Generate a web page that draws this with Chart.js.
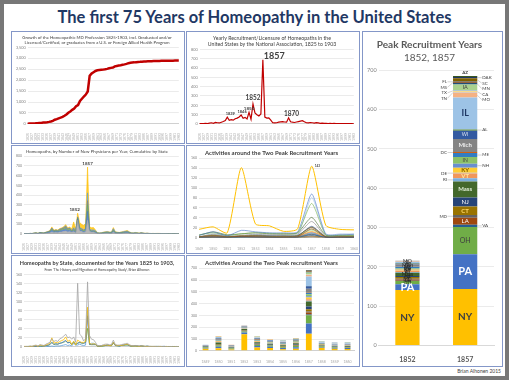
<!DOCTYPE html>
<html lang="en">
<head>
<meta charset="UTF-8">
<title>The first 75 Years of Homeopathy in the United States</title>
<script src="https://cdn.jsdelivr.net/npm/chart.js"></script>
<style>
    html, body { margin: 0; padding: 0; }
    body {
        width: 509px; height: 380px; overflow: hidden;
        background: #777777; position: relative;
        font-family: Lato, "Open Sans", sans-serif;
    }
    #sheet { position: absolute; left: 4px; top: 4px; width: 501px; height: 372px; background: #fff; }
    h1 {
        position: absolute; left: 0; top: 7px; width: 509px; margin: 0;
        text-align: center; font: bold 16.5px Lato, sans-serif; color: #1f3864;
    }
    .panel { position: absolute; border: 1px solid #8497c8; box-sizing: border-box; background: #fff; }
    .panel canvas { display: block; }
    #credit { position: absolute; right: 8px; top: 368px; font: 5px Lato, sans-serif; color: #404040; }
</style>
</head>
<body>
<div id="sheet"></div>
<h1>The first 75 Years of Homeopathy in the United States</h1>

<div class="panel" style="left:11px;top:31px;width:174px;height:113px"><canvas id="cumChart" width="172" height="111"></canvas></div>
<div class="panel" style="left:186px;top:31px;width:174px;height:113px"><canvas id="yearChart" width="172" height="111"></canvas></div>
<div class="panel" style="left:11px;top:145px;width:174px;height:109px"><canvas id="areaChart" width="172" height="107"></canvas></div>
<div class="panel" style="left:186px;top:145px;width:174px;height:109px"><canvas id="windowLines" width="172" height="107"></canvas></div>
<div class="panel" style="left:11px;top:255px;width:174px;height:112px"><canvas id="stateLines" width="172" height="110"></canvas></div>
<div class="panel" style="left:186px;top:255px;width:174px;height:112px"><canvas id="windowBars" width="172" height="110"></canvas></div>
<div class="panel" style="left:362px;top:31px;width:141px;height:336px"><canvas id="peakChart" width="139" height="334"></canvas></div>
<div id="credit">Brian Alhonen 2015</div>

<script>
// ---- data ----
const years = [];
for (let y = 1825; y <= 1903; y++) years.push(String(y));

// cumulative number of homeopathic MDs, 1825..1903
const cumulative = [10,15,18,22,26,32,40,46,58,68,78,92,112,140,
    190,220,255,285,320,370,430,510,570,640,
    700,810,860,1050,1150,1250,1340,1480,2200,2300,2360,2420,
    2450,2460,2470,2480,2495,2515,2540,2560,2575,2630,2650,2665,2680,2700,2720,2745,2775,2795,
    2805,2812,2822,2830,2836,2845,2852,2856,2861,2864,2868,2871,2874,2876,2879,2881,2883,2885,2887,2888,2890,2891,2892,2894,2895];

// new physicians per year, 1825..1903
const yearly = [2,3,2,5,4,8,12,6,15,12,10,18,25,35,
    72,38,45,40,55,62,75,95,60,70,
    52,123,50,214,117,99,86,107,689,73,63,65,
    40,12,10,12,18,22,25,20,18,65,22,18,15,20,25,30,35,22,
    12,10,15,12,8,14,10,6,8,5,6,4,5,3,5,4,3,3,4,2,3,2,2,3,1];
const markedYears = ['1839', '1846', '1850', '1852', '1857', '1870'];

// a few states over the whole period, 1825..1903
const nyByYear = [1,1,1,2,1,3,4,2,5,4,3,6,8,10, 18,12,14,12,18,20,24,28,20,22,
    17,22,10,141,28,24,13,18,144,25,17,16, 10,3,3,3,5,6,6,5,5,15,5,4,4,5,6,7,8,5,
    3,2,3,3,2,3,2,1,2,1,1,1,1,1,1,1,1,1,1,0,1,0,0,1,0];
const paByYear = [1,1,0,1,1,2,3,1,4,3,2,4,6,8, 20,8,10,9,12,14,16,22,12,15,
    5,12,4,15,12,10,10,12,88,8,6,7, 6,2,2,2,3,4,4,3,3,10,4,3,3,3,4,5,6,4,
    2,2,2,2,1,2,2,1,1,1,1,1,1,0,1,1,0,0,1,0,0,0,0,0,0];
const ohByYear = [0,0,0,1,1,1,1,1,2,2,2,3,4,5, 10,6,7,6,8,9,12,14,9,10,
    6,10,5,8,10,9,8,10,69,6,5,5, 5,2,1,2,3,3,4,3,3,10,3,3,2,3,4,5,5,3,
    2,2,2,2,1,2,1,1,1,1,0,1,1,1,0,0,1,1,0,1,0,1,0,0,0];
const massByYear = [0,1,1,1,1,1,2,1,2,1,2,3,3,5, 10,5,6,6,8,9,10,13,9,10,
    5,12,6,8,10,8,8,10,41,5,5,5, 5,1,1,1,2,3,3,3,2,8,3,2,2,3,3,4,4,3,
    1,1,2,1,1,2,1,1,1,1,1,0,1,1,1,0,0,0,1,0,1,0,1,0,0];
const ilByYear = [0,0,0,0,0,0,0,0,0,0,0,0,1,1, 2,1,2,2,2,3,4,5,3,4,
    2,8,4,4,6,4,3,4,81,6,8,8, 6,2,2,2,2,3,4,3,3,10,3,3,2,3,4,4,5,3,
    2,2,3,2,1,3,2,1,2,1,1,1,0,1,1,1,1,1,0,0,0,1,0,1,0];
const otherByYear = [0,0,0,0,0,1,2,1,2,2,1,2,3,6, 12,6,6,5,7,7,9,13,7,9,
    17,59,21,38,51,44,44,53,266,23,22,24, 8,2,1,2,3,3,4,3,2,12,4,3,2,3,4,5,7,4,
    2,1,3,2,2,2,2,1,1,0,0,1,0,1,1,1,0,0,1,1,0,0,1,1,1];

// the two peak years and their neighbours, by state
const peakWindow = ['1849','1850','1851','1852','1853','1854','1855','1856','1857','1858','1859','1860'];
const peakYears = ['1852', '1857'];
const stateNames = ['NY','PA','OH','VA','LA','MD','CT','NJ','Mass','RI','VT','DE','KY','NH','IN','ME',
    'DC','Mich','WI','AL','IL','MO','TN','CA','TX','IA','MN','MS','FL','SC','DAK','AZ'];
const stateCounts = [
    [17,22,10,141,28,24,13,18,144,25,17,16], // NY
    [5,12,4,15,12,10,10,12,88,8,6,7],        // PA
    [6,10,5,8,10,9,8,10,69,6,5,5],           // OH
    [0,1,0,1,1,1,0,1,6,1,0,1],               // VA
    [1,2,1,3,2,1,1,2,18,1,1,1],              // LA
    [1,2,1,2,2,1,1,2,7,1,1,1],               // MD
    [2,5,2,4,4,3,3,4,21,2,2,2],              // CT
    [2,4,2,3,4,3,3,4,23,2,2,2],              // NJ
    [5,12,6,8,10,8,8,10,41,5,5,5],           // Mass
    [1,3,1,2,2,2,2,2,8,1,1,1],               // RI
    [2,5,2,3,4,3,3,3,12,2,2,2],              // VT
    [0,1,0,1,0,1,0,1,2,0,0,0],               // DE
    [1,3,1,2,3,2,2,2,13,1,1,1],              // KY
    [1,4,2,2,3,3,3,3,10,1,2,2],              // NH
    [1,4,2,2,4,3,3,4,17,2,2,2],              // IN
    [1,4,2,3,3,3,3,3,10,2,2,2],              // ME
    [0,1,0,1,1,0,1,1,3,0,0,0],               // DC
    [2,7,3,5,7,6,6,7,33,3,3,3],              // Mich
    [1,5,2,2,5,4,4,5,21,2,2,2],              // WI
    [0,1,0,1,1,1,1,1,3,1,0,1],               // AL
    [2,8,4,4,6,4,3,4,81,6,8,8],              // IL
    [1,3,1,2,3,3,3,3,12,2,2,2],              // MO
    [0,1,0,1,1,1,1,1,2,0,0,0],               // TN
    [0,1,0,0,1,1,1,1,2,1,1,1],               // CA
    [0,0,0,0,0,0,1,0,2,0,0,0],               // TX
    [0,1,0,0,2,2,2,3,15,2,2,2],              // IA
    [0,0,0,0,1,1,1,1,4,1,1,1],               // MN
    [0,0,0,0,0,0,0,0,2,0,0,0],               // MS
    [0,0,0,0,0,0,0,0,2,0,0,0],               // FL
    [0,1,0,0,1,1,1,1,8,0,0,1],               // SC
    [0,0,0,0,0,0,0,0,3,0,0,0],               // DAK
    [0,0,0,0,0,0,0,0,3,0,0,0]                // AZ
];

// ---- styles ----
const stateColors = ['#FFC000','#4472C4','#70AD47','#255E91','#9E480E','#636363','#997300','#264478',
    '#43682B','#7CAFDD','#F1975A','#B7B7B7','#FFCD33','#698ED0','#8CC168','#327DC2','#D26012','#848484',
    '#335AA1','#5A8A39','#9DC3E6','#F4B183','#C9C9C9','#FFD966','#8FAADC','#A9D18E','#1F4E79','#843C0C',
    '#525252','#7F6000','#203864','#385723'];

Chart.defaults.font.family = 'Lato, "Open Sans", sans-serif';
Chart.defaults.color = '#595959';
Chart.defaults.animation = false;
Chart.defaults.responsive = false;
Chart.defaults.devicePixelRatio = 1;
Chart.defaults.plugins.legend.display = false;
Chart.defaults.plugins.tooltip.enabled = false;
Chart.defaults.elements.point.radius = 0;

function yAxis(max, step, size, stacked) {
    return {
        min: 0, max: max, stacked: !!stacked,
        ticks: { stepSize: step, font: { size: size }, color: '#808080', padding: 2 },
        grid: { color: '#ebebeb', drawTicks: false },
        border: { display: false }
    };
}
function yearAxis() {
    return {
        ticks: {
            autoSkip: false, minRotation: 90, maxRotation: 90, padding: 1,
            font: { size: 3.5 }, color: '#a6a6a6',
            callback: function (v, i) { return i % 2 === 0 ? this.getLabelForValue(v) : ''; }
        },
        grid: { display: false },
        border: { color: '#d0d0d0' }
    };
}
function windowAxis(stacked) {
    return {
        stacked: !!stacked,
        ticks: { autoSkip: false, maxRotation: 0, font: { size: 3.5 }, color: '#a6a6a6', padding: 1 },
        grid: { display: false },
        border: { color: '#d0d0d0' }
    };
}
function smallTitle(lines, size, bold) {
    return { display: true, text: lines, font: { size: size, weight: bold ? 'bold' : 'normal' },
             color: '#404040', padding: { top: 3, bottom: 2 } };
}

// text labels next to chosen points of dataset 0
function pointLabels(id, entries) {
    return {
        id: id,
        afterDatasetsDraw(chart) {
            const ctx = chart.ctx;
            const meta = chart.getDatasetMeta(0);
            ctx.save();
            entries.forEach(e => {
                const idx = chart.data.labels.indexOf(e.label);
                const pt = meta.data[idx];
                ctx.font = 'bold ' + e.size + 'px Lato, sans-serif';
                ctx.fillStyle = '#404040';
                ctx.textAlign = e.align || 'center';
                ctx.textBaseline = 'bottom';
                ctx.fillText(e.text || e.label, pt.x + (e.dx || 0), pt.y + (e.dy || 0));
            });
            ctx.restore();
        }
    };
}

// ---- 1: cumulative growth ----
new Chart(document.getElementById('cumChart'), {
    type: 'line',
    data: { labels: years, datasets: [{ data: cumulative, borderColor: '#c00000', borderWidth: 2.5 }] },
    options: {
        layout: { padding: { left: 2, right: 4, bottom: 1 } },
        plugins: { title: smallTitle(['Growth of the Homeopathic MD Profession 1825-1903, incl. Graduated and/or',
            'Licensed/Certified, or graduates from a U.S. or Foreign Allied Health Program'], 4.3) },
        scales: { x: yearAxis(), y: yAxis(3500, 500, 3.8) }
    }
});

// ---- 2: yearly recruitment ----
new Chart(document.getElementById('yearChart'), {
    type: 'line',
    data: { labels: years, datasets: [{ data: yearly, borderColor: '#c00000', borderWidth: 1.2 }] },
    options: {
        layout: { padding: { left: 2, right: 4, bottom: 1 } },
        plugins: { title: smallTitle(['Yearly Recruitment/Licensure of Homeopaths in the',
            'United States by the National Association, 1825 to 1903'], 5.2) },
        scales: { x: yearAxis(), y: yAxis(800, 100, 3.8) }
    },
    plugins: [pointLabels('yearMarks', [
        { label: markedYears[0], size: 4, dx: 3, dy: -1 },
        { label: markedYears[1], size: 4, dx: 1, dy: -1 },
        { label: markedYears[2], size: 4.5, dx: 0, dy: -2 },
        { label: markedYears[3], size: 6.5, dx: 0, dy: -3 },
        { label: markedYears[4], size: 9, dx: 1, dy: 1, align: 'left' },
        { label: markedYears[5], size: 6.5, dx: 3, dy: -1 }
    ])]
});

// ---- 3: stacked area by state ----
const areaSeries = [
    { d: nyByYear, c: '#a5a5a5' }, { d: paByYear, c: '#4472c4' }, { d: ohByYear, c: '#70ad47' },
    { d: massByYear, c: '#7f7f7f' }, { d: ilByYear, c: '#5b9bd5' }, { d: otherByYear, c: '#ffc000' }
];
new Chart(document.getElementById('areaChart'), {
    type: 'line',
    data: {
        labels: years,
        datasets: areaSeries.map((s, i) => ({
            data: s.d, borderColor: s.c, backgroundColor: s.c + 'cc', borderWidth: 0.6,
            fill: i === 0 ? 'origin' : '-1'
        }))
    },
    options: {
        layout: { padding: { left: 2, right: 4, bottom: 1 } },
        plugins: { title: smallTitle(['Homeopaths, by Number of New Physicians per Year, Cumulative by State'], 4.4) },
        scales: { x: yearAxis(), y: yAxis(800, 100, 3.5, true) }
    },
    plugins: [{
        id: 'areaMarks',
        afterDatasetsDraw(chart) {
            const ctx = chart.ctx;
            const top = chart.getDatasetMeta(areaSeries.length - 1);
            ctx.save();
            ctx.font = 'bold 4.5px Lato, sans-serif';
            ctx.fillStyle = '#404040';
            ctx.textAlign = 'center';
            ctx.textBaseline = 'bottom';
            peakYears.forEach(y => {
                const pt = top.data[years.indexOf(y)];
                ctx.fillText(y, pt.x - (y === '1852' ? 3 : 0), pt.y - 1);
            });
            ctx.restore();
        }
    }]
});

// ---- 4: lines around the peak years ----
new Chart(document.getElementById('windowLines'), {
    type: 'line',
    data: {
        labels: peakWindow,
        datasets: stateNames.map((n, i) => ({
            label: n, data: stateCounts[i], borderColor: stateColors[i],
            borderWidth: i === 0 ? 1 : 0.6, tension: 0.2
        }))
    },
    options: {
        layout: { padding: { left: 2, right: 5, bottom: 1 } },
        plugins: { title: smallTitle(['Activities around the Two Peak Recruitment Years'], 6, true) },
        scales: { x: windowAxis(), y: yAxis(160, 20, 3.5) }
    },
    plugins: [pointLabels('nyPeak', [{ label: '1857', text: '143', size: 3, dx: 3, dy: 1, align: 'left' }])]
});

// ---- 5: lines by state, whole period ----
const lineSeries = [
    { d: nyByYear, c: '#a5a5a5' }, { d: paByYear, c: '#ffc000' }, { d: ohByYear, c: '#4472c4' },
    { d: massByYear, c: '#70ad47' }, { d: ilByYear, c: '#5b9bd5' }
];
new Chart(document.getElementById('stateLines'), {
    type: 'line',
    data: {
        labels: years,
        datasets: lineSeries.map(s => ({ data: s.d, borderColor: s.c, borderWidth: 0.8 }))
    },
    options: {
        layout: { padding: { left: 2, right: 4, bottom: 1 } },
        plugins: {
            title: { display: true, text: 'Homeopaths by State, documented for the Years 1825 to 1903,',
                     font: { size: 5.5 }, color: '#404040', padding: { top: 4, bottom: 1 } },
            subtitle: { display: true, text: "From 'The History and Migration of Homeopathy Study', Brian Alhonen",
                        font: { size: 3.4 }, color: '#404040', padding: { bottom: 3 } }
        },
        scales: { x: yearAxis(), y: yAxis(160, 20, 3.5) }
    }
});

// ---- 6: stacked bars around the peak years ----
new Chart(document.getElementById('windowBars'), {
    type: 'bar',
    data: {
        labels: peakWindow,
        datasets: stateNames.map((n, i) => ({
            label: n, data: stateCounts[i], backgroundColor: stateColors[i],
            barPercentage: 0.5, categoryPercentage: 0.9
        }))
    },
    options: {
        layout: { padding: { left: 2, right: 5, bottom: 1 } },
        plugins: { title: smallTitle(['Activities Around the Two Peak recruitment Years'], 6, true) },
        scales: { x: windowAxis(true), y: yAxis(700, 100, 3.5, true) }
    }
});

// ---- 7: the two peak years, stacked by state ----
const peakCols = peakYears.map(y => peakWindow.indexOf(y));
const insideStyle = {
    NY: [10, '#404040', 'bold'], PA: [11, '#ffffff', 'bold'], OH: [7, '#404040', ''],
    LA: [6, '#ffffff', ''], CT: [6, '#ffd966', 'bold'], NJ: [6, '#ffffff', ''], Mass: [6, '#e2efda', 'bold'],
    VT: [6, '#ffe699', 'bold'], KY: [6, '#7f6000', 'bold'], IN: [5, '#404040', ''], WI: [5, '#dde3f0', ''],
    Mich: [6, '#eeeeee', 'bold'], IL: [9, '#1f3864', 'bold'], IA: [5.5, '#404040', '']
};
const leftSide = ['MD', 'RI', 'DE', 'DC', 'TN', 'TX', 'MS', 'FL'];

const peakLabels = {
    id: 'peakLabels',
    afterDatasetsDraw(chart) {
        const ctx = chart.ctx;
        ctx.save();
        ctx.textBaseline = 'middle';
        const left = [], right = [];
        chart.data.datasets.forEach((ds, i) => {
            const name = ds.label;
            // 1852: crowded labels straight on the bar
            const a = chart.getDatasetMeta(i).data[0];
            if (ds.data[0] >= 2) {
                const st = insideStyle[name];
                const big = name === 'NY' || name === 'PA';
                ctx.font = (big ? 'bold ' + st[0] : '5') + 'px Lato, sans-serif';
                ctx.fillStyle = big ? st[1] : '#262626';
                ctx.textAlign = 'center';
                ctx.fillText(name, a.x, (a.y + a.base) / 2);
            }
            // 1857
            const b = chart.getDatasetMeta(i).data[1];
            if (!ds.data[1]) return;
            const cy = (b.y + b.base) / 2;
            if (insideStyle[name]) {
                const st = insideStyle[name];
                ctx.font = st[2] + ' ' + st[0] + 'px Lato, sans-serif';
                ctx.fillStyle = st[1];
                ctx.textAlign = 'center';
                ctx.fillText(name, b.x, cy);
            } else if (name === 'AZ') {
                ctx.font = 'bold 4.5px Lato, sans-serif';
                ctx.fillStyle = '#404040';
                ctx.textAlign = 'center';
                ctx.fillText(name, b.x, b.y - 3);
            } else {
                (leftSide.includes(name) ? left : right).push({ name, cy, bar: b });
            }
        });
        [left, right].forEach((list, side) => {
            list.sort((p, q) => p.cy - q.cy);
            let prev = -100;
            list.forEach(l => {
                const ty = Math.max(l.cy, prev + 5.5);
                prev = ty;
                const edge = side === 0 ? l.bar.x - l.bar.width / 2 : l.bar.x + l.bar.width / 2;
                const tx = side === 0 ? edge - 6 : edge + 5;
                ctx.strokeStyle = '#a6a6a6';
                ctx.lineWidth = 0.5;
                ctx.beginPath();
                ctx.moveTo(side === 0 ? tx + 0.5 : tx - 0.5, ty);
                ctx.lineTo(edge, l.cy);
                ctx.stroke();
                ctx.font = '4.5px Lato, sans-serif';
                ctx.fillStyle = '#404040';
                ctx.textAlign = side === 0 ? 'right' : 'left';
                ctx.fillText(l.name, tx, ty);
            });
        });
        ctx.restore();
    }
};

new Chart(document.getElementById('peakChart'), {
    type: 'bar',
    data: {
        labels: peakYears,
        datasets: stateNames.map((n, i) => ({
            label: n, data: peakCols.map(c => stateCounts[i][c]), backgroundColor: stateColors[i],
            barPercentage: 0.42, categoryPercentage: 1
        }))
    },
    options: {
        layout: { padding: { left: 2, right: 8, bottom: 0 } },
        plugins: {
            title: { display: true, text: 'Peak Recruitment Years', font: { size: 10, weight: 'bold' },
                     color: '#595959', padding: { top: 7, bottom: 1 } },
            subtitle: { display: true, text: '1852, 1857', font: { size: 10 }, color: '#595959',
                        padding: { bottom: 6 } }
        },
        scales: {
            x: { stacked: true, grid: { display: false }, border: { color: '#d9d9d9' },
                 ticks: { font: { size: 7, weight: 'bold' }, color: '#595959', padding: 2 } },
            y: yAxis(700, 100, 5.5, true)
        }
    },
    plugins: [peakLabels]
});
</script>
</body>
</html>
